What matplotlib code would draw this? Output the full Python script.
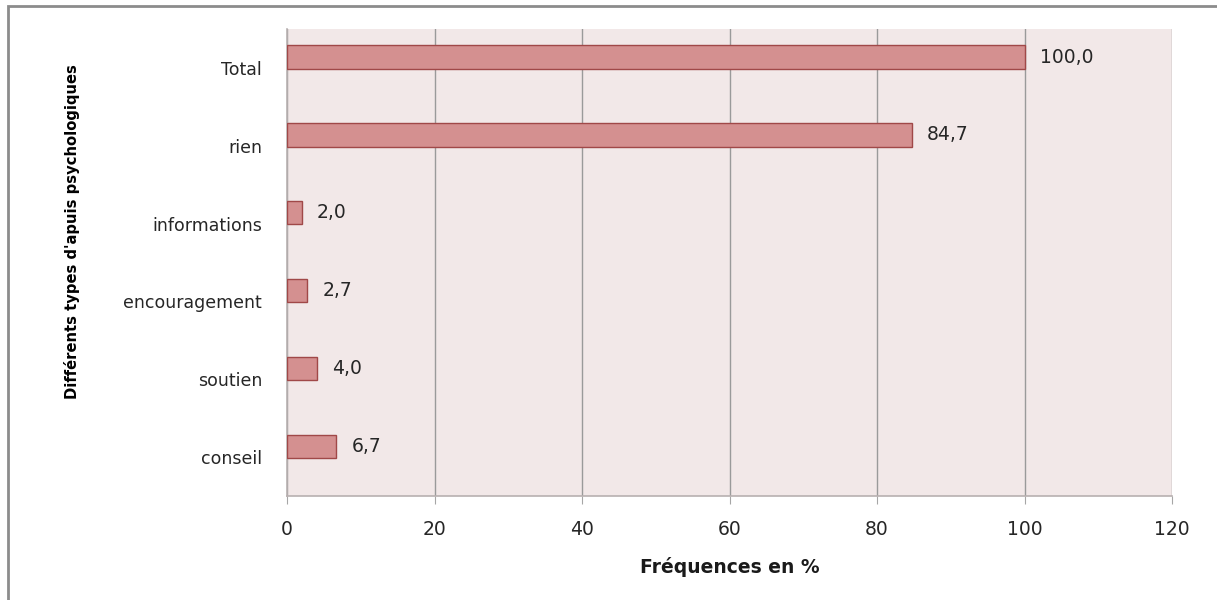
import matplotlib.pyplot as plt
from matplotlib.patches import Rectangle

# categories from bottom to top
categories = ['conseil', 'soutien', 'encouragement', 'informations', 'rien', 'Total']
values = [6.7, 4.0, 2.7, 2.0, 84.7, 100.0]
x_ticks = [0, 20, 40, 60, 80, 100, 120]

W, H = 1217, 600
fig = plt.figure(figsize=(W / 100, H / 100), dpi=100)
plt.rcParams['font.family'] = ['DejaVu Sans']

# outer chart frame (cut off on right and bottom like the reference)
fig.patches.append(Rectangle((8 / W, -0.1), 1.2, 1 - 6 / H + 0.1, transform=fig.transFigure,
                             fill=False, edgecolor='#8c8c8c', linewidth=2))

ax = fig.add_axes([287 / W, 1 - 496 / H, (1172 - 287) / W, (496 - 29) / H])
ax.set_facecolor('#f2e8e8')

ypos = list(range(len(categories)))
# bars sit a little above the category centre, as in the original Excel chart
bar_y = [y + 0.14 for y in ypos]
ax.barh(bar_y, values, height=0.3, color='#d49090', edgecolor='#a04848', linewidth=1, zorder=3)
for y, v in zip(bar_y, values):
    ax.annotate(f'{v:.1f}'.replace('.', ','), (v, y), xytext=(11, 0), textcoords='offset points',
                va='center', ha='left', fontsize=13.5, color='#262626')

ax.set_xlim(0, 120)
ax.set_ylim(-0.5, len(categories) - 0.5)
ax.set_xticks(x_ticks)
ax.set_xticklabels([str(t) for t in x_ticks], fontsize=13.5, color='#262626')
ax.set_yticks(ypos)
ax.set_yticklabels(categories, fontsize=12.5, color='#262626')
ax.tick_params(axis='x', length=6, color='#a6a6a6', pad=11)
ax.tick_params(axis='y', length=0, pad=18)
ax.grid(axis='x', color='#9a9a9a', linewidth=1, zorder=0)
for s in ['top', 'right']:
    ax.spines[s].set_visible(False)
for s in ['left', 'bottom']:
    ax.spines[s].set_color('#b8b0b0')
    ax.spines[s].set_linewidth(1.2)

ax.set_xlabel('Fréquences en %', fontsize=13.5, fontweight='bold', color='#1a1a1a', labelpad=13)
fig.text(72 / W, 1 - 232 / H, "Différents types d'apuis psychologiques", rotation=90,
         ha='center', va='center', fontsize=11.8, fontweight='bold', fontstretch='condensed',
         family=['DejaVu Sans'], color='#000000')

fig.savefig('out.png', dpi=100)
